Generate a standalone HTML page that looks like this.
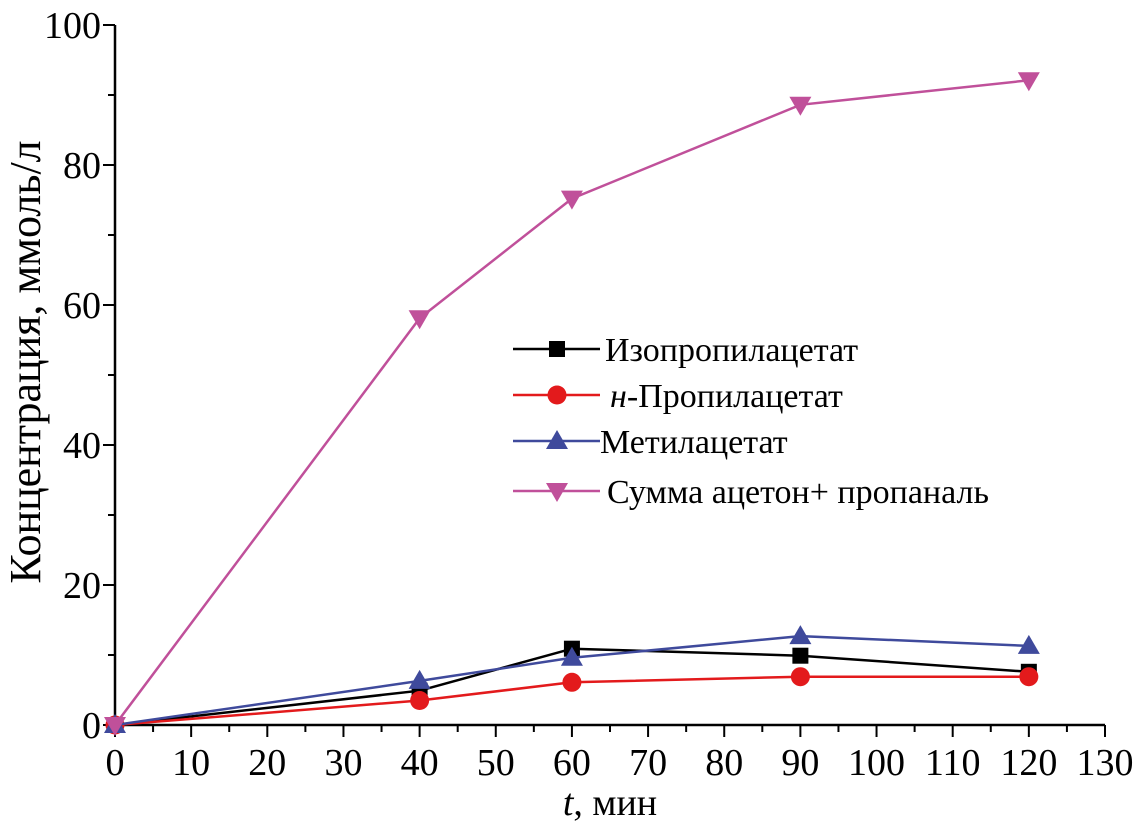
<!DOCTYPE html>
<html><head><meta charset="utf-8">
<style>
html,body{margin:0;padding:0;background:#fff;}
svg{display:block;font-family:"Liberation Serif","DejaVu Serif",serif;}
</style></head>
<body>
<svg id="chart" width="1138" height="829" viewBox="0 0 1138 829"></svg>
<script>
const xValues = [0, 40, 60, 90, 120];
const isoValues = [0, 4.9, 10.9, 9.9, 7.6];
const nPropValues = [0, 3.5, 6.1, 6.9, 6.9];
const methylValues = [0, 6.3, 9.6, 12.7, 11.3];
const sumValues = [0, 58.1, 75.2, 88.6, 92.1];
const xTicks = [0,10,20,30,40,50,60,70,80,90,100,110,120,130];
const yTicks = [0,20,40,60,80,100];

const NS='http://www.w3.org/2000/svg';
const svg=document.getElementById('chart');
const X0=115,X1=1105,Y0=725,Y1=25;
function sx(v){return X0+(v/130)*(X1-X0);}
function sy(v){return Y0-(v/100)*(Y0-Y1);}
function mk(tag,attrs,parent){const e=document.createElementNS(NS,tag);for(const k in attrs)e.setAttribute(k,attrs[k]);(parent||svg).appendChild(e);return e;}

const axes=mk('g',{});


mk('line',{x1:X0,y1:Y0,x2:X1,y2:Y0,stroke:'#000','stroke-width':2.5},axes);
mk('line',{x1:X0,y1:Y0,x2:X0,y2:Y1,stroke:'#000','stroke-width':2.5},axes);
for(let v=0;v<=130;v+=5){
  const major=v%10===0;
  mk('line',{x1:sx(v),y1:Y0,x2:sx(v),y2:Y0+(major?12:7),stroke:'#000','stroke-width':2},axes);
}
xTicks.forEach(v=>{
  const t=mk('text',{x:sx(v),y:Y0+50,'text-anchor':'middle','font-size':38},axes);
  
  
  t.textContent=v;
});
for(let v=0;v<=100;v+=10){
  const major=v%20===0;
  mk('line',{x1:X0,y1:sy(v),x2:X0-(major?12:7),y2:sy(v),stroke:'#000','stroke-width':2},axes);
}
yTicks.forEach(v=>{
  const t=mk('text',{x:X0-14,y:sy(v)+13,'text-anchor':'end','font-size':38},axes);
  
  
  t.textContent=v;
});
const xt=mk('text',{x:610,y:815,'text-anchor':'middle','font-size':38});


xt.innerHTML='<tspan font-style="italic">t</tspan>, мин';
const yt=mk('text',{x:0,y:0,'text-anchor':'middle','font-size':44,transform:'translate(40,362) rotate(-90)'});


yt.textContent='Концентрация, ммоль/л';

function marker(g,type,x,y,color){
  if(type==='square') mk('rect',{x:x-8,y:y-8,width:16,height:16,fill:color},g);
  else if(type==='circle') mk('circle',{cx:x,cy:y,r:9.5,fill:color},g);
  else if(type==='up') mk('polygon',{points:`${x},${y-11} ${x+11},${y+8} ${x-11},${y+8}`,fill:color},g);
  else mk('polygon',{points:`${x},${y+11} ${x+11},${y-8} ${x-11},${y-8}`,fill:color},g);
}
const series=[
  {name:'series-isopropyl-acetate',vals:isoValues,color:'#000000',m:'square'},
  {name:'series-n-propyl-acetate',vals:nPropValues,color:'#e31a1c',m:'circle'},
  {name:'series-methyl-acetate',vals:methylValues,color:'#3f4a9c',m:'up'},
  {name:'series-acetone-propanal-sum',vals:sumValues,color:'#c0509a',m:'down'}
];
series.forEach(s=>{
  const g=mk('g',{});
  
  
  const pts=s.vals.map((v,i)=>sx(xValues[i])+','+sy(v)).join(' ');
  mk('polyline',{points:pts,fill:'none',stroke:s.color,'stroke-width':2.5},g);
  s.vals.forEach((v,i)=>marker(g,s.m,sx(xValues[i]),sy(v),s.color));
});

const legend=mk('g',{});


const labels=['Изопропилацетат','<tspan font-style="italic">н</tspan>-Пропилацетат','Метилацетат','Сумма ацетон+ пропаналь'];
const ly=[349,395,441,491];
const lx=[605,610,600,607];
series.forEach((s,i)=>{
  const e=mk('g',{},legend);
  
  
  mk('line',{x1:513,y1:ly[i],x2:600,y2:ly[i],stroke:s.color,'stroke-width':2.5},e);
  marker(e,s.m,557,ly[i],s.color);
  const t=mk('text',{x:lx[i],y:ly[i]+12,'font-size':34},e);
  t.innerHTML=labels[i];
});
</script>
</body></html>
